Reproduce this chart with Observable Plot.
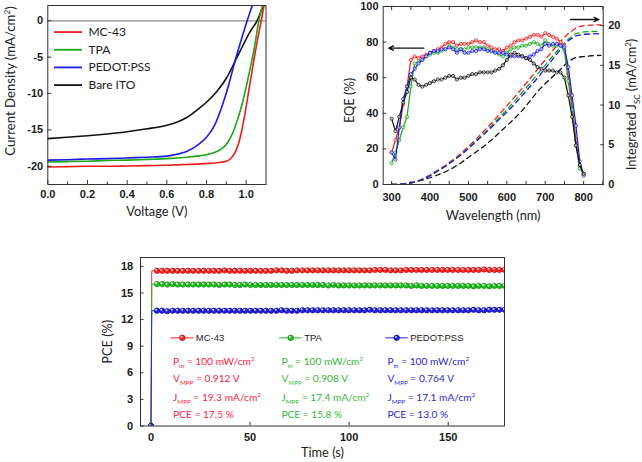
<!DOCTYPE html>
<html><head><meta charset="utf-8">
<script src="https://cdn.jsdelivr.net/npm/d3@7"></script>
<script src="https://cdn.jsdelivr.net/npm/@observablehq/plot@0.6"></script>
<style>
body{margin:0;background:#fff}
#wrap{position:relative;width:642px;height:462px;overflow:hidden;background:#fff}
.panel{position:absolute}
.panel svg{overflow:visible}
</style></head>
<body><div id="wrap"></div>
<script>
// ---------- Panel A: J-V ----------
const jvNames = ["MC-43", "TPA", "PEDOT:PSS", "Bare ITO"];
const mc43V = [0,0.1,0.2,0.3,0.4,0.5,0.6,0.7,0.75,0.8,0.84,0.87,0.9,0.92,0.94,0.96,0.98,1.0,1.02,1.04,1.06,1.076,1.09];
const mc43J = [-20.1,-20.05,-20.0,-20.0,-19.95,-19.9,-19.85,-19.75,-19.7,-19.62,-19.55,-19.45,-19.3,-19.0,-18.3,-17.0,-14.8,-11.8,-8.5,-5.2,-2.2,0,2.1];
const tpaV = [0,0.1,0.2,0.3,0.4,0.5,0.6,0.7,0.75,0.8,0.84,0.87,0.9,0.92,0.94,0.96,0.98,1.0,1.02,1.04,1.064,1.082];
const tpaJ = [-19.4,-19.35,-19.3,-19.2,-19.15,-19.05,-18.95,-18.75,-18.6,-18.4,-18.1,-17.7,-17.0,-16.1,-14.9,-13.3,-11.4,-9.1,-6.6,-3.9,0,2.1];
const pedotV = [0,0.1,0.2,0.3,0.4,0.5,0.6,0.65,0.7,0.75,0.8,0.84,0.88,0.91,0.94,0.97,1.005,1.035];
const pedotJ = [-19.15,-19.1,-19.0,-18.95,-18.85,-18.75,-18.6,-18.35,-17.95,-17.2,-16.0,-14.4,-11.6,-9.0,-5.9,-3.1,0,2.4];
const itoV = [0,0.1,0.2,0.3,0.4,0.5,0.6,0.65,0.7,0.75,0.8,0.85,0.9,0.94,0.98,1.02,1.055,1.085,1.1];
const itoJ = [-16.2,-16.0,-15.8,-15.55,-15.25,-14.85,-14.35,-13.95,-13.3,-12.3,-11.2,-9.8,-7.9,-5.8,-3.6,-1.5,0,1.9,2.6];
const jvXTicks = [0, 0.2, 0.4, 0.6, 0.8, 1.0];
const jvXMinor = [0.1, 0.3, 0.5, 0.7, 0.9];
const jvYTicks = [-20, -15, -10, -5, 0];

// ---------- Panel B: EQE ----------
const eqeNames = ["MC-43", "TPA", "PEDOT:PSS", "Bare ITO"];
const eqeWl = [300,310,320,330,340,350,360,370,380,390,400,410,420,430,440,450,460,470,480,490,500,510,520,530,540,550,560,570,580,590,600,610,620,630,640,650,660,670,680,690,700,710,720,730,740,750,760,770,780,790,800];
const eqeMC43 = [18,25,32,45,55,70,72,71,72,73,74,75,76,77,79,80,80,78,79,79,79,80,81,80,80,78,77,76,76,75,77,78,80,81,81,82,83,84,84,83,85,84,83,82,80,78,62,45,25,10,6];
const eqeTPA = [12,18,25,32,38,55,68,69,70,72,73,74,74,75,76,78,77,76,76,76,77,77,77,77,77,76,75,74,73,72,74,76,77,77,78,78,79,80,79,78,81,79,78,78,78,75,58,42,22,9,6];
const eqePEDOT = [18,14,32,48,55,62,65,68,70,72,74,75,75,76,76,77,76,74,76,74,74,75,75,76,76,75,75,74,74,74,73,72,72,72,72,71,72,73,75,76,79,78,79,79,78,77,66,50,33,13,5];
const eqeITO = [37,30,38,46,52,60,59,56,55,56,57,58,59,59,60,61,61,59,60,60,61,62,62,63,63,63,63,64,65,67,70,73,74,73,72,71,70,68,66,65,64,64,64,63,63,60,50,38,22,11,6];
const jscWl = [300,320,340,360,380,400,420,440,460,480,500,520,540,560,580,600,620,640,660,680,700,720,740,760,780,800,820,845];
const jscMC43 = [0,0.02,0.1,0.3,0.7,1.2,1.8,2.4,3.1,3.9,4.8,5.7,6.7,7.7,8.8,9.9,11.0,12.1,13.3,14.5,15.7,16.9,18.0,19.0,19.7,20.0,20.05,20.1];
const jscTPA = [0,0.02,0.1,0.3,0.6,1.1,1.7,2.3,3.0,3.7,4.6,5.5,6.4,7.4,8.4,9.4,10.5,11.6,12.7,13.9,15.0,16.2,17.3,18.3,19.0,19.2,19.25,19.3];
const jscPEDOT = [0,0.02,0.1,0.3,0.6,1.1,1.7,2.3,3.0,3.7,4.5,5.4,6.3,7.2,8.2,9.1,10.1,11.2,12.3,13.4,14.6,15.8,17.0,18.1,18.7,18.9,18.95,19.0];
const jscITO = [0,0.03,0.15,0.35,0.55,0.85,1.2,1.6,2.1,2.7,3.4,4.1,4.8,5.6,6.5,7.4,8.3,9.3,10.5,11.7,12.7,13.6,14.5,15.5,16.0,16.1,16.2,16.25];
const eqeXTicks = [300, 400, 500, 600, 700, 800];
const eqeXMinor = [300,350,400,450,500,550,600,650,700,750,800,850];
const eqeYTicks = [0, 20, 40, 60, 80, 100];
const jscYTicks = [0, 5, 10, 15, 20];

// ---------- Panel C: PCE tracking ----------
const pceNames = ["MC-43", "TPA", "PEDOT:PSS"];
const pceTime = [0,0.4,
 3.0,5.6,8.2,10.9,13.5,16.1,18.7,21.3,24.0,26.6,
 29.2,31.8,34.4,37.1,39.7,42.3,44.9,47.5,50.2,52.8,
 55.4,58.0,60.6,63.3,65.9,68.5,71.1,73.7,76.4,79.0,
 81.6,84.2,86.8,89.5,92.1,94.7,97.3,99.9,102.6,105.2,
 107.8,110.4,113.0,115.7,118.3,120.9,123.5,126.1,128.8,131.4,
 134.0,136.6,139.2,141.9,144.5,147.1,149.7,152.3,155.0,157.6,
 160.2,162.8,165.4,168.1,170.7,173.3,175.9,178.5];
const pceMC43 = [0,17.5,
 17.5,17.5,17.5,17.5,17.5,17.5,17.5,17.5,17.5,17.5,
 17.5,17.5,17.5,17.55,17.5,17.5,17.5,17.5,17.5,17.5,
 17.5,17.5,17.5,17.55,17.55,17.5,17.5,17.55,17.55,17.55,
 17.55,17.55,17.55,17.55,17.55,17.55,17.55,17.55,17.55,17.55,
 17.55,17.55,17.6,17.6,17.6,17.55,17.55,17.55,17.6,17.6,
 17.6,17.6,17.6,17.6,17.6,17.6,17.6,17.6,17.6,17.6,
 17.6,17.6,17.6,17.65,17.6,17.6,17.6,17.6];
const pceTPA = [0,16.0,
 16.0,16.0,15.95,16.0,15.95,15.95,15.95,15.95,15.95,15.95,
 15.95,15.95,15.9,15.95,15.95,15.9,15.9,15.95,15.9,15.9,
 15.9,15.9,15.9,15.9,15.9,15.9,15.9,15.9,15.9,15.9,
 15.9,15.9,15.9,15.85,15.9,15.85,15.85,15.85,15.85,15.85,
 15.85,15.85,15.85,15.85,15.85,15.85,15.85,15.85,15.85,15.8,
 15.85,15.8,15.8,15.8,15.8,15.8,15.8,15.8,15.8,15.8,
 15.8,15.75,15.8,15.8,15.75,15.8,15.8,15.8];
const pcePEDOT = [0,13.0,
 13.0,13.0,12.95,13.0,13.0,13.0,13.0,13.0,13.0,13.0,
 13.0,13.0,13.0,13.0,13.0,13.0,13.0,13.0,13.0,13.0,
 13.0,13.0,13.0,13.0,13.05,13.0,13.0,13.0,13.05,13.05,
 13.05,13.05,13.05,13.05,13.05,13.05,13.05,13.05,13.05,13.05,
 13.05,13.1,13.05,13.05,13.05,13.05,13.05,13.05,13.05,13.05,
 13.05,13.05,13.05,13.05,13.05,13.05,13.05,13.05,13.05,13.05,
 13.05,13.1,13.05,13.05,13.1,13.1,13.1,13.1];
const pinVals = [100, 100, 100];
const vmppVals = ["0.912", "0.908", "0.764"];
const jmppVals = ["19.3", "17.4", "17.1"];
const pceVals = ["17.5", "15.8", "13.0"];
const pceXTicks = [0, 50, 100, 150];
const pceYTicks = [0, 3, 6, 9, 12, 15, 18];

// ---------- styling ----------
const lineColors = ["#f01c1c", "#1aa81a", "#1a1ae6", "#111111"];
const ballColors = ["#ff2323", "#22c022", "#2323e6"];
const ballEdges = ["#a80000", "#0a7a0a", "#00008a"];
const textColors = ["#ff2440", "#36b836", "#2a2ad0"];
const TICKFONT = "'Liberation Sans', Arial, sans-serif";
const TITLEFONT = "Lato, 'Open Sans', sans-serif";
const baseStyle = {fontFamily: TICKFONT, fontSize: "11px", fontWeight: "bold", color: "#1a1a1a", background: "transparent", overflow: "visible"};
const FRAME = "#333";
const titleOpts = {text: d => d, fontFamily: TITLEFONT, fontSize: 12.8, fontWeight: "normal", fill: "#222", textAnchor: "middle", lineAnchor: "middle"};

const wrap = document.getElementById("wrap");
function rich(svg) {
  svg.querySelectorAll("text").forEach(el => {
    const s = el.textContent;
    if (!/[_^]\{/.test(s)) return;
    const parts = s.split(/([_^]\{[^}]*\})/).filter(p => p.length);
    while (el.firstChild) el.removeChild(el.firstChild);
    const fs = parseFloat(getComputedStyle(el).fontSize) || 12;
    let shift = 0;
    parts.forEach(p => {
      const ts = document.createElementNS("http://www.w3.org/2000/svg", "tspan");
      let target = 0, txt = p, small = false;
      if (p.startsWith("_{")) { target = fs * 0.3; txt = p.slice(2, -1); small = true; }
      else if (p.startsWith("^{")) { target = -fs * 0.38; txt = p.slice(2, -1); small = true; }
      const dy = target - shift;
      if (dy) ts.setAttribute("dy", dy.toFixed(2));
      shift = target;
      if (small) ts.setAttribute("font-size", (fs * 0.62).toFixed(2) + "px");
      ts.textContent = txt;
      el.appendChild(ts);
    });
  });
}
function place(svg, left, top) {
  const d = document.createElement("div");
  d.className = "panel";
  d.style.left = left + "px";
  d.style.top = top + "px";
  d.appendChild(svg);
  wrap.appendChild(d);
  rich(svg);
}

// ===== Panel A =====
{
  const Vs = [mc43V, tpaV, pedotV, itoV], Js = [mc43J, tpaJ, pedotJ, itoJ];
  const marks = [Plot.ruleY([0], {stroke: "#8a8a8a", strokeWidth: 1.2})];
  [3, 2, 1, 0].forEach(i => {
    const rows = Vs[i].map((v, k) => ({v, j: Js[i][k]}));
    marks.push(Plot.line(rows, {x: "v", y: "j", stroke: lineColors[i], strokeWidth: 1.6, curve: "monotone-x", clip: true}));
  });
  const leg = jvNames.map((s, i) => ({s, i, y: -1.55 - i * 2.43}));
  leg.forEach(d => {
    marks.push(Plot.ruleY([d], {y: "y", x1: () => 0.034, x2: () => 0.175, stroke: lineColors[d.i], strokeWidth: 1.8}));
  });
  marks.push(Plot.text(leg, {x: () => 0.205, y: "y", text: "s", textAnchor: "start", fontFamily: TITLEFONT, fontSize: 12, fontWeight: "normal", fill: "#222"}));
  marks.push(
    Plot.axisX({ticks: jvXTicks, tickSize: 0, tickPadding: 5.5, tickFormat: d => d.toFixed(1), label: null}),
    Plot.axisX({ticks: jvXTicks, tickSize: -4, tickFormat: () => "", label: null, stroke: FRAME}),
    Plot.axisX({ticks: jvXMinor, tickSize: -2.5, tickFormat: () => "", label: null, stroke: FRAME}),
    Plot.axisY({ticks: jvYTicks, tickSize: 0, tickPadding: 4.6, tickFormat: d => String(d), label: null}),
    Plot.axisY({ticks: jvYTicks, tickSize: -4, tickFormat: () => "", label: null, stroke: FRAME}),
    Plot.frame({stroke: FRAME, strokeWidth: 1}),
    Plot.text(["Voltage (V)"], {frameAnchor: "bottom", dy: 27.7, ...titleOpts}),
    Plot.text(["Current Density (mA/cm^{2})"], {frameAnchor: "left", dx: -37.3, dy: -14, rotate: -90, ...titleOpts, fontSize: 13.2})
  );
  const svg = Plot.plot({
    width: 320, height: 230, marginLeft: 47.3, marginRight: 54.5, marginTop: 5, marginBottom: 46,
    x: {domain: [0, 1.1]}, y: {domain: [-22.5, 2.1]},
    style: baseStyle, marks
  });
  place(svg, 0, 0);
}

// ===== Panel B =====
{
  const k = 100 / 22.4;
  const eqeSets = [eqeMC43, eqeTPA, eqePEDOT, eqeITO];
  const jscSets = [jscMC43, jscTPA, jscPEDOT, jscITO];
  const marks = [];
  [3, 0, 1, 2].forEach(i => {
    const rows = jscWl.map((w, n) => ({w, y: jscSets[i][n] * k}));
    marks.push(Plot.line(rows, {x: "w", y: "y", stroke: lineColors[i], strokeWidth: 1.3, strokeDasharray: "5,4", clip: true}));
  });
  [0, 1, 2, 3].forEach(i => {
    const rows = eqeWl.map((w, n) => ({w, y: eqeSets[i][n]}));
    marks.push(Plot.line(rows, {x: "w", y: "y", stroke: lineColors[i], strokeWidth: 1.2}));
    marks.push(Plot.dot(rows, {x: "w", y: "y", r: 1.6, stroke: lineColors[i], fill: "#fff", fillOpacity: 0.6, strokeWidth: 0.8}));
  });
  marks.push(
    Plot.arrow([{x1: 383.8, x2: 292.6, y: 76.6}], {x1: "x1", x2: "x2", y1: "y", y2: "y", stroke: "#111", strokeWidth: 1.3, headLength: 6, headAngle: 50}),
    Plot.arrow([{x1: 765.9, x2: 839.6, y: 92.7}], {x1: "x1", x2: "x2", y1: "y", y2: "y", stroke: "#111", strokeWidth: 1.3, headLength: 6, headAngle: 50}),
    Plot.axisX({ticks: eqeXTicks, tickSize: 0, tickPadding: 8.5, label: null}),
    Plot.axisX({ticks: eqeXMinor, tickSize: -3, tickFormat: () => "", label: null, stroke: FRAME}),
    Plot.axisX({anchor: "top", ticks: eqeXMinor, tickSize: -3, tickFormat: () => "", label: null, stroke: FRAME}),
    Plot.axisY({ticks: eqeYTicks, tickSize: 0, tickPadding: 4.7, label: null}),
    Plot.axisY({ticks: eqeYTicks, tickSize: -3.5, tickFormat: () => "", label: null, stroke: FRAME}),
    Plot.axisY({anchor: "right", ticks: jscYTicks.map(v => v * k), tickSize: 0, tickPadding: 5, tickFormat: d => String(Math.round(d / k)), label: null}),
    Plot.axisY({anchor: "right", ticks: jscYTicks.map(v => v * k), tickSize: -3.5, tickFormat: () => "", label: null, stroke: FRAME}),
    Plot.frame({stroke: FRAME, strokeWidth: 1}),
    Plot.text(["Wavelength (nm)"], {frameAnchor: "bottom", dy: 31, ...titleOpts}),
    Plot.text(["EQE (%)"], {frameAnchor: "left", dx: -33.4, dy: 5, rotate: -90, ...titleOpts}),
    Plot.text(["Integrated J_{SC} (mA/cm^{2})"], {frameAnchor: "right", dx: 29, dy: 9, rotate: -90, ...titleOpts})
  );
  const svg = Plot.plot({
    width: 322, height: 230, marginLeft: 62.7, marginRight: 39.3, marginTop: 6, marginBottom: 46,
    x: {domain: [278, 851]}, y: {domain: [0, 100]},
    style: baseStyle, marks
  });
  place(svg, 320, 0);
}

// ===== Panel C =====
{
  const sets = [pceMC43, pceTPA, pcePEDOT];
  const marks = [];
  const colX = [10.6, 65.3, 118.8];
  const legY = 9.94;
  const rowsY = [7.3, 5.31, 3.23, 1.28];
  [0, 1, 2].forEach(i => {
    const rows = pceTime.map((t, n) => ({t, p: sets[i][n], n}));
    const mk = rows.filter(d => d.n !== 1);
    marks.push(Plot.line(rows, {x: "t", y: "p", stroke: ballColors[i], strokeWidth: 1, clip: true}));
    marks.push(Plot.dot(mk, {x: "t", y: "p", r: 2.7, fill: ballColors[i], stroke: ballEdges[i], strokeWidth: 0.6, clip: true}));
    marks.push(Plot.dot(mk, {x: "t", y: "p", r: 1.0, fill: "#fff", fillOpacity: 0.85, dx: -0.8, dy: -0.9, clip: true}));
  });
  pceNames.forEach((s, i) => {
    const c = colX[i];
    marks.push(Plot.ruleY([legY], {y: d => d, x1: () => c - 0.4, x2: () => c + 11, stroke: ballColors[i], strokeWidth: 1}));
    marks.push(Plot.dot([legY], {y: d => d, x: () => c + 5.2, r: 2.8, fill: ballColors[i], stroke: ballEdges[i], strokeWidth: 0.6}));
    marks.push(Plot.dot([legY], {y: d => d, x: () => c + 5.2, r: 1.0, fill: "#fff", fillOpacity: 0.85, dx: -0.8, dy: -0.9}));
    marks.push(Plot.text([s], {x: () => c + 12, y: () => legY, text: d => d, textAnchor: "start", fontFamily: TICKFONT, fontSize: 9.5, fontWeight: "normal", fill: "#222"}));
    const lines = [
      `P_{in} = ${pinVals[i]} mW/cm^{2}`,
      `V_{MPP} = ${vmppVals[i]} V`,
      `J_{MPP} = ${jmppVals[i]} mA/cm^{2}`,
      `PCE = ${pceVals[i]} %`
    ];
    marks.push(Plot.text(lines, {x: () => c + 0.5, y: (d, n) => rowsY[n], text: d => d, textAnchor: "start", fontFamily: TITLEFONT, fontSize: 10.2, fontWeight: "normal", fill: textColors[i]}));
  });
  marks.push(
    Plot.axisX({ticks: pceXTicks, tickSize: 0, tickPadding: 7.3, label: null}),
    Plot.axisX({ticks: pceXTicks, tickSize: -3.5, tickFormat: () => "", label: null, stroke: FRAME}),
    Plot.axisY({ticks: pceYTicks, tickSize: 0, tickPadding: 7.3, label: null}),
    Plot.axisY({ticks: pceYTicks, tickSize: -3.5, tickFormat: () => "", label: null, stroke: FRAME}),
    Plot.frame({stroke: FRAME, strokeWidth: 1}),
    Plot.text(["Time (s)"], {frameAnchor: "bottom", dy: 27, ...titleOpts}),
    Plot.text(["PCE (%)"], {frameAnchor: "left", dx: -33, dy: 0, rotate: -90, ...titleOpts})
  );
  const svg = Plot.plot({
    width: 552, height: 222, marginLeft: 50, marginRight: 138, marginTop: 17, marginBottom: 36.5,
    x: {domain: [-5.3, 178.4]}, y: {domain: [0, 19]},
    style: baseStyle, marks
  });
  place(svg, 90, 240);
}
</script>
</body></html>
